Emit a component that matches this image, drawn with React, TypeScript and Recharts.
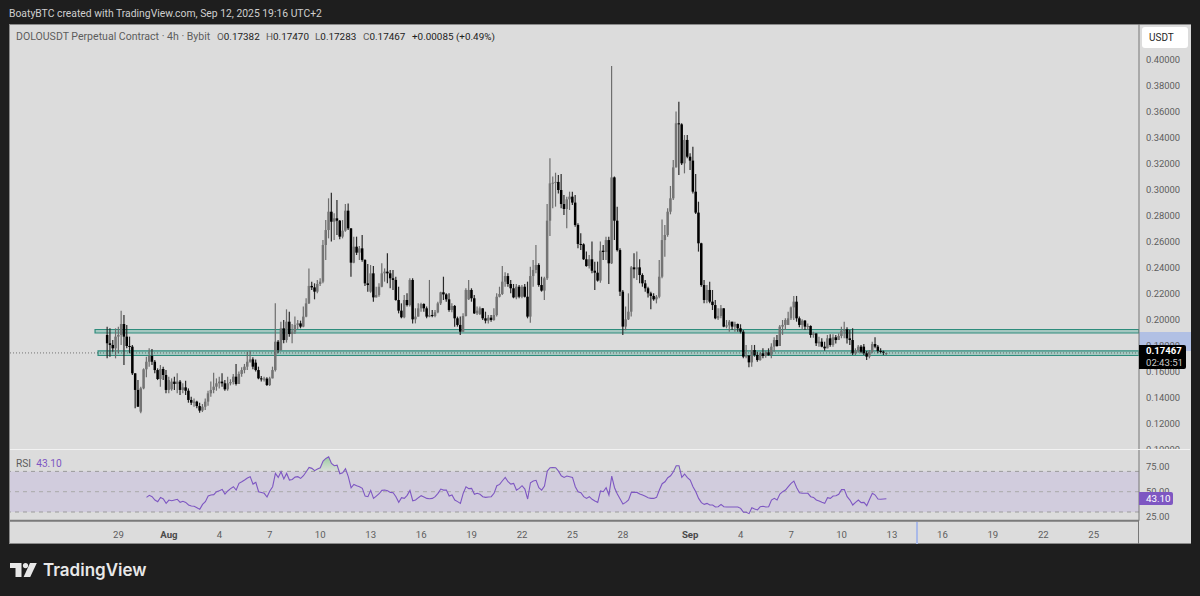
import React from "react";
import { ComposedChart, Bar, Line, Area, XAxis, YAxis, ReferenceArea, ReferenceLine } from "recharts";

const opens = [
.1885,.1821,.1808,.1782,.1872,.1885,.1969,.1872,.18,.1795,
.159,.1462,.1295,.1474,.1621,.1679,.1723,.1679,.1615,.1546,
.1623,.1577,.1462,.1467,.1526,.1508,.1526,.1462,.1482,.1456,
.1385,.1364,.1372,.1338,.1303,.1333,.1372,.1436,.1462,.1487,
.1513,.1526,.1513,.1467,.1513,.1523,.1564,.1508,.1585,.1615,
.1641,.1679,.1697,.1672,.1615,.1551,.1544,.1549,.15,.1551,
.1615,.1833,.1769,.1936,.1846,.1987,.1892,.191,.1962,.1974,
.1949,.2026,.2128,.2262,.2251,.2218,.2277,.2295,.2577,.2692,
.2833,.2756,.2782,.2764,.2641,.2687,.2841,.2705,.2441,.2564,
.2518,.2551,.2462,.2282,.2218,.2359,.2174,.2192,.2256,.2359,
.2372,.2359,.2321,.2308,.2154,.2072,.2021,.2154,.2115,.2308,
.2005,.2026,.209,.2123,.209,.2026,.2038,.2031,.2059,.2128,
.2213,.2197,.2159,.2077,.2108,.2013,.1962,.191,.2031,.2159,
.2231,.2167,.2051,.2046,.209,.2013,.1995,.2018,.2,.2038,
.2179,.22,.2295,.2338,.2277,.2244,.2174,.2256,.2179,.2256,
.2179,.2026,.2338,.2385,.2423,.2269,.2226,.2321,.2764,.3051,
.3056,.3062,.3,.2892,.2854,.2928,.2949,.2903,.2731,.2585,
.2582,.2467,.2415,.2467,.2379,.2364,.2303,.2533,.2523,.2615,
.2436,.3097,.2764,.2538,.2218,.1949,.2005,.2064,.2405,.239,
.2405,.2346,.2282,.2244,.2205,.2185,.2159,.2179,.2333,.2615,
.2654,.2833,.2936,.3174,.3513,.3505,.3205,.3385,.3256,.3226,
.2987,.2826,.259,.2269,.2154,.2231,.2141,.2115,.2013,.2031,
.209,.1949,.1959,.1987,.1949,.1969,.1936,.191,.1718,.1726,
.1674,.1769,.1731,.1692,.1744,.1723,.1751,.1731,.1795,.1846,
.18,.1949,.1962,.1962,.2013,.2097,.2141,.2013,.1962,.1995,
.1949,.1954,.1885,.1897,.1821,.1833,.1795,.1782,.1859,.1808,
.1867,.1846,.1877,.1918,.1928,.1859,.1846,.1744,.1762,.1795,
.1795,.1744,.1718,.1756,.1815,.1795,.1762,.1756,.17382,
];
const highs = [
.1949,.1936,.1846,.1936,.1949,.2072,.2038,.1962,.1872,.1808,
.159,.1538,.1487,.1628,.1718,.1782,.1777,.1692,.1628,.1654,
.1641,.1615,.1564,.1551,.1564,.159,.1538,.1513,.1533,.1474,
.141,.1397,.1379,.1364,.1354,.1397,.1456,.1526,.1595,.1551,
.1564,.159,.1538,.1564,.1544,.1585,.1662,.1603,.1636,.1662,
.1756,.1764,.1713,.1697,.1641,.1569,.1564,.1559,.1564,.1641,
.2128,.1846,.1987,.2,.2082,.2064,.1969,.2026,.2,.1995,
.2103,.2167,.2397,.2295,.2282,.2308,.2321,.2615,.2769,.2936,
.2979,.2821,.2923,.2769,.2769,.2892,.2897,.2705,.2641,.2641,
.2569,.2654,.2467,.2431,.2423,.2415,.2256,.2282,.2436,.2397,
.2513,.2385,.2385,.2333,.2256,.2128,.2192,.2205,.2321,.2321,
.209,.2128,.2133,.2128,.2103,.2308,.2077,.2077,.2141,.2218,
.2333,.2205,.2205,.2128,.2115,.2026,.2026,.2051,.2244,.2308,
.2244,.2192,.2103,.2103,.209,.2064,.2038,.2038,.209,.2205,
.2256,.2415,.2367,.2359,.2308,.2277,.2277,.2269,.2269,.2277,
.2295,.241,.2462,.2577,.2436,.2333,.2333,.2892,.3244,.3103,
.3133,.3115,.3123,.2962,.2949,.2987,.2987,.2962,.2744,.2667,
.259,.2526,.25,.2603,.2449,.2449,.2603,.2577,.2641,.2641,
.3954,.3103,.2872,.2551,.2231,.2103,.2205,.2415,.2513,.2526,
.2467,.2359,.2308,.2256,.2218,.2205,.2192,.2462,.2774,.2731,
.2859,.3031,.3231,.3603,.3679,.3513,.3423,.3423,.3282,.3333,
.3123,.291,.2595,.2308,.2269,.2295,.2231,.2154,.209,.2115,
.209,.2,.2,.1987,.1987,.1974,.1967,.1923,.1808,.1731,
.1808,.1808,.1756,.1756,.1782,.1764,.1782,.1821,.1867,.1885,
.1962,.2,.2013,.2064,.2103,.2185,.2185,.2026,.2005,.2,
.1974,.1959,.191,.1897,.1872,.1859,.1833,.1885,.189,.189,
.1885,.1897,.1949,.1987,.1944,.1923,.1936,.1782,.1808,.1808,
.1815,.1762,.1769,.1833,.1867,.1808,.1782,.1764,.1747,
];
const lows = [
.1705,.1718,.1756,.1705,.1744,.1808,.1654,.1782,.1744,.1577,
.1321,.1333,.1282,.1467,.1559,.1641,.1654,.159,.1538,.1487,
.1538,.1436,.1436,.1456,.1462,.1436,.1423,.1436,.1423,.1364,
.1346,.1333,.1321,.1287,.1292,.1308,.1341,.141,.1436,.1456,
.1474,.1487,.1456,.1456,.1497,.1503,.1497,.1518,.1564,.159,
.1615,.1672,.1621,.1603,.1544,.1526,.1526,.1492,.1492,.1551,
.1603,.1744,.1764,.1821,.1826,.1872,.1821,.1892,.1928,.1936,
.1944,.2021,.2123,.2231,.2159,.2205,.2262,.2282,.2462,.2628,
.2603,.2615,.2654,.2621,.2628,.2679,.2692,.2333,.2436,.25,
.2462,.2449,.2262,.2218,.221,.2141,.2174,.2179,.2251,.2295,
.2282,.2244,.2231,.2149,.2051,.2013,.2013,.2103,.2103,.1974,
.1974,.2026,.2064,.2064,.2013,.2021,.2021,.2021,.2051,.2115,
.2154,.2141,.2064,.2059,.1949,.1949,.1885,.191,.2026,.2154,
.2141,.2046,.2038,.2038,.2,.1974,.1974,.1987,.1995,.2026,
.2174,.2192,.2256,.2256,.2205,.2167,.2159,.2167,.2167,.2174,
.2013,.1979,.2256,.2359,.2256,.2218,.2154,.2308,.2646,.2859,
.2872,.2974,.2859,.2808,.2705,.2846,.2885,.2718,.2551,.2538,
.2462,.241,.2397,.2359,.2231,.2295,.2287,.2462,.2462,.2277,
.2431,.2615,.2526,.2185,.1885,.1921,.2,.2026,.2321,.2308,
.2282,.2256,.2218,.2174,.2082,.2149,.2128,.2167,.2321,.2487,
.2641,.2813,.2923,.3174,.3115,.3192,.3128,.3244,.3154,.2974,
.2815,.2526,.2256,.2128,.2128,.2128,.2077,.2005,.2,.2013,
.1944,.1936,.191,.1923,.191,.191,.1897,.1705,.1705,.1636,
.1641,.1718,.1679,.1687,.1705,.171,.1723,.1705,.1756,.1795,
.18,.1885,.1923,.1962,.2,.2,.1987,.1944,.1923,.1923,
.1923,.1864,.1864,.18,.1795,.179,.1764,.1782,.1795,.1795,
.182,.1846,.1859,.1859,.182,.1808,.1731,.1731,.1749,.1744,
.1731,.1692,.1705,.1744,.1782,.1744,.1744,.1731,.17283,
];
const closes = [
.1821,.1808,.1782,.1872,.1885,.1969,.1872,.18,.1795,.159,
.1462,.1333,.1474,.1621,.1679,.1723,.1679,.1615,.1546,.1623,
.1577,.1462,.1538,.1526,.1508,.1526,.1462,.1482,.1456,.1385,
.1364,.1372,.1338,.1303,.1333,.1372,.1436,.1462,.1487,.1513,
.1526,.1513,.1467,.1513,.1523,.1564,.1508,.1585,.1615,.1641,
.1679,.1697,.1641,.1615,.1551,.1544,.1549,.15,.1551,.1615,
.1833,.1769,.1936,.1846,.1987,.1892,.191,.1962,.1974,.1949,
.2026,.2128,.2262,.2251,.2218,.2277,.2295,.2577,.2692,.2833,
.2756,.2782,.2764,.2641,.2687,.2841,.2705,.2441,.2564,.2518,
.2551,.2462,.2282,.2269,.2359,.2174,.2192,.2256,.2359,.2372,
.2359,.2321,.2308,.2154,.2072,.2021,.2154,.2115,.2308,.2005,
.2026,.209,.2123,.209,.2026,.2038,.2031,.2059,.2128,.2213,
.2197,.2159,.2077,.2108,.2013,.1962,.191,.2031,.2231,.2231,
.2167,.2051,.2072,.209,.2013,.1995,.2018,.2,.2038,.2179,
.22,.2295,.2338,.2277,.2244,.2174,.2256,.2179,.2256,.2179,
.2026,.2338,.2385,.2423,.2269,.2226,.2321,.2764,.3051,.3056,
.3062,.3,.2892,.2854,.2928,.2949,.2903,.2731,.2585,.2582,
.2467,.2415,.2467,.2379,.2364,.2303,.2533,.2523,.2615,.2436,
.3097,.2764,.2538,.2218,.1949,.2005,.2064,.2405,.239,.2405,
.2346,.2282,.2244,.2205,.2185,.2159,.2179,.2333,.2615,.2654,
.2833,.2936,.3174,.3513,.3505,.3205,.3385,.3256,.3226,.2987,
.2826,.259,.2269,.2154,.2231,.2141,.2115,.2013,.2031,.209,
.1949,.1959,.1987,.1949,.1969,.1936,.191,.1718,.1726,.1674,
.1769,.1731,.1692,.1744,.1723,.1751,.1731,.1795,.1846,.18,
.1949,.1962,.2,.2013,.2097,.2141,.2013,.1962,.1995,.1949,
.1954,.1885,.1897,.1821,.1833,.1795,.1782,.1859,.1808,.1867,
.1846,.1877,.1918,.1928,.1859,.1846,.1744,.1762,.1795,.1756,
.1744,.1718,.1756,.1815,.1795,.1762,.1756,.1749,.17467,
];
const rsiStart = 14;
const rsiValues = [
44.4,46.4,45.1,41.8,40.2,44.4,42.8,38.5,41.8,41.1,
41.8,42.5,39.5,40.5,39.5,36.9,35.9,35.6,34.2,32.6,
37.5,40.2,45.7,46.7,47.1,50,51,52.3,47.7,50.7,
53,54.9,51.6,58.2,59.8,61.5,63.4,64.8,57.5,59.2,
50,49.3,48.4,44.8,50.7,54.9,68,64.1,69.7,62.5,
68,61.5,62.1,64.4,64.8,63.1,65.7,69.7,73.9,73,
70.7,72.3,73.6,80.2,82.8,84.4,77.9,75.6,76.2,67.7,
68.7,72.6,64.8,53.9,57.2,55.9,54.9,53.3,45.7,45.1,
51.3,43.4,45.7,48,51.3,51.6,51,49.3,49,45.1,
39.5,44.1,43.4,46.4,51.3,41.1,41.8,44.1,46.1,44.8,
43.4,43.1,43.4,45.1,48.4,52.6,51.6,51.6,45.7,46.7,
41.8,40.2,38.5,48.4,54.9,53,53.3,47.4,48.4,47.4,
45.1,44.4,44.8,45.1,48.4,55.9,57.2,60.8,64.1,59.8,
57.5,58.2,51.6,53.3,55.9,52.6,42.8,58.8,60.5,61.2,
53.9,51.6,55.6,70.3,73.6,73.9,73.6,70.3,65.7,64.1,
65.4,64.8,64.1,54.9,50,49,45.1,43.4,45.1,42.5,
40.8,39.5,50.7,50,53.9,46.7,65.4,53.9,47.7,42.8,
37.9,39.5,41.8,49.3,49.3,49.3,47.7,46.7,45.4,44.1,
43.4,43.4,44.4,51.6,57.9,59.8,63.8,65.7,69.7,75.6,
75.6,64.1,67.4,63.8,61.5,54.9,50,43.4,39.2,37.5,
38.5,36.9,36.9,34.9,35.2,37.5,35.2,34.9,34.9,34.9,
34.9,34.9,33.6,29.7,29.7,28.4,34.2,33,32,35.2,
35.6,34.9,35.2,41.8,43.4,41.8,47.7,50,51.6,54.9,
58.2,60.5,53.9,49,48.4,48.4,48.4,45.1,44.4,41.8,
40.8,39.5,38.5,44.1,43.4,45.7,46,47.4,52,52,
45.1,41.8,36.9,39.5,41.8,39.2,39.5,36.2,42.5,48.4,
46.7,42.8,42.5,42.8,43.1,
];
const dayTicks = [4,22,40,58,76,94,112,130,148,166,184,208,226,244,262,280,298,316,334,352];
const dayLabels = ["29","Aug","4","7","10","13","16","19","22","25","28","Sep","4","7","10","13","16","19","22","25"];
const priceTicks = [.10,.12,.14,.16,.18,.20,.22,.24,.26,.28,.30,.32,.34,.36,.38,.40];
const rsiTicks = [25,50,75];
const lastPrice = 0.17467;
const lastRsi = 43.1;
const zoneUpper = [0.19, 0.1927];
const zoneLower = [0.1727, 0.1762];
const ohlcLegend = [
  { key: "O", value: "0.17382", left: 217 },
  { key: "H", value: "0.17470", left: 266 },
  { key: "L", value: "0.17283", left: 315 },
  { key: "C", value: "0.17467", left: 363 },
];

const candles = closes.map((c, i) => ({ i, o: opens[i], h: Math.max(highs[i], opens[i], c), l: Math.min(lows[i], opens[i], c), c, range: [Math.min(lows[i], opens[i], c), Math.max(highs[i], opens[i], c)] }));
const rsiOf = (i: number) => (i >= rsiStart && i - rsiStart < rsiValues.length ? rsiValues[i - rsiStart] : null);
const rsiData = closes.map((_, i) => {
  const r = rsiOf(i);
  const near = [rsiOf(i - 1), r, rsiOf(i + 1)].some((v) => v !== null && v > 70);
  return { i, rsi: r, over: r !== null && near ? [70, Math.max(r, 70)] : null };
});

const FONT = "Roboto, 'Noto Sans', sans-serif";
const X_DOMAIN: [number, number] = [-34.71, 368.14];
const GREY = "#5c5c5c";

function Candle(props: any) {
  const { x, y, width, height, payload } = props;
  const { o, h, l, c } = payload;
  const k = height / Math.max(h - l, 1e-6);
  const top = y + (h - Math.max(o, c)) * k;
  const bh = Math.max(Math.abs(o - c) * k, 1);
  const cx = x + width / 2;
  const up = c >= o;
  return (
    <g>
      <line x1={cx} x2={cx} y1={y} y2={y + height} stroke={up ? "#6e6e6e" : "#2a2a2a"} strokeWidth={1.2} />
      <rect x={cx - 1.25} y={top} width={2.5} height={bh} fill={up ? "#747474" : "#000000"} />
    </g>
  );
}

function DayTick(props: any) {
  const { x, y, payload } = props;
  const idx = dayTicks.indexOf(payload.value);
  const label = dayLabels[idx];
  const bold = label === "Aug" || label === "Sep";
  return (
    <text x={x} y={y + 7} textAnchor="middle" dominantBaseline="middle" fontFamily={FONT} fontSize={9.6} fontWeight={bold ? 700 : 400} fill={bold ? "#4a4a4a" : GREY}>
      {label}
    </text>
  );
}

const abs = (s: React.CSSProperties): React.CSSProperties => ({ position: "absolute", ...s });

export default function App() {
  return (
    <div style={abs({ left: 0, top: 0, width: 1200, height: 596, background: "#1e1e1e", overflow: "hidden", fontFamily: FONT })}>
      <div style={abs({ left: 9, top: 7, fontSize: 10.37, color: "#cfcfcf", whiteSpace: "nowrap", lineHeight: "13px" })}>
        BoatyBTC created with TradingView.com, Sep 12, 2025 19:16 UTC+2
      </div>
      <div style={abs({ left: 9, top: 24, width: 1182, height: 520, background: "#dcdcdc", boxSizing: "border-box", borderTop: "1px solid #8a8a8a", borderLeft: "1px solid #8a8a8a", borderBottom: "1px solid #8a8a8a" })} />
      <div style={abs({ left: 1139, top: 332, width: 52, height: 19, background: "#b1c0e4" })} />

      <div style={abs({ left: 0, top: 0 })}>
        <ComposedChart width={1191} height={450} data={candles} margin={{ top: 24, right: 0, bottom: 0, left: 10 }}>
          <XAxis dataKey="i" type="number" domain={X_DOMAIN} hide allowDataOverflow />
          <YAxis orientation="right" width={52} domain={[0.1, 0.42769]} ticks={priceTicks} interval={0} allowDataOverflow
            tickFormatter={(v: number) => v.toFixed(5)} tickLine={false} tickMargin={1}
            axisLine={{ stroke: "#777777", strokeWidth: 1 }} tick={{ fontFamily: FONT, fontSize: 9.4, fill: GREY }} />
          <Bar dataKey="range" shape={Candle} barSize={3} isAnimationActive={false} />
          <ReferenceArea x1={-4.36} x2={368.14} y1={zoneUpper[0]} y2={zoneUpper[1]} fill="#4fa797" fillOpacity={0.4} stroke="#2e8c7c" strokeWidth={1.2} ifOverflow="hidden" />
          <ReferenceArea x1={-3.29} x2={368.14} y1={zoneLower[0]} y2={zoneLower[1]} fill="#4fa797" fillOpacity={0.4} stroke="#2e8c7c" strokeWidth={1.2} ifOverflow="hidden" />
          <ReferenceLine y={lastPrice} stroke="#3a3a3a" strokeOpacity={0.7} strokeDasharray="1 2" strokeWidth={0.9} />
        </ComposedChart>
      </div>

      <div style={abs({ left: 10, top: 450, width: 1180, height: 93, background: "#dcdcdc" })} />
      <div style={abs({ left: 10, top: 449, width: 1180, height: 1, background: "#f2f2f2" })} />

      <div style={abs({ left: 0, top: 450 })}>
        <ComposedChart width={1191} height={94} data={rsiData} margin={{ top: 0, right: 0, bottom: 0, left: 10 }}>
          <defs>
            <linearGradient id="overFill" x1="0" y1="0" x2="0" y2="1">
              <stop offset="0%" stopColor="#7cc483" stopOpacity={0.75} />
              <stop offset="100%" stopColor="#a5d6a7" stopOpacity={0.08} />
            </linearGradient>
          </defs>
          <XAxis dataKey="i" type="number" domain={X_DOMAIN} ticks={dayTicks} interval={0} allowDataOverflow height={23.3}
            tick={<DayTick />} tickLine={false} axisLine={{ stroke: "#7a7a7a", strokeWidth: 2 }} />
          <YAxis orientation="right" width={52} domain={[21.43, 91.08]} ticks={rsiTicks} interval={0} allowDataOverflow
            tickFormatter={(v: number) => v.toFixed(2)} tickLine={false} tickMargin={1}
            axisLine={{ stroke: "#777777", strokeWidth: 1 }} tick={{ fontFamily: FONT, fontSize: 9.4, fill: GREY }} />
          <ReferenceArea y1={30} y2={70} fill="#d1ccdd" fillOpacity={1} stroke="none" />
          <ReferenceLine y={70} stroke="#9b9b9b" strokeDasharray="4 4" />
          <ReferenceLine y={50} stroke="#a9a9a9" strokeDasharray="4 4" />
          <ReferenceLine y={30} stroke="#9b9b9b" strokeDasharray="4 4" />
          <Area dataKey="over" type="linear" fill="url(#overFill)" fillOpacity={1} stroke="none" isAnimationActive={false} connectNulls={false} />
          <Line dataKey="rsi" type="linear" stroke="#7e57c2" strokeWidth={1.1} dot={false} isAnimationActive={false} connectNulls={false} />
        </ComposedChart>
      </div>

      <div style={abs({ left: 1138, top: 520, width: 1, height: 24, background: "#777777" })} />
      <div style={abs({ left: 916, top: 522, width: 2, height: 22, background: "#a9b9e8" })} />

      <div style={abs({ left: 16, top: 30, fontSize: 10.55, lineHeight: "13px", color: GREY, whiteSpace: "pre" })}>
        DOLOUSDT Perpetual Contract · 4h · Bybit
      </div>
      {ohlcLegend.map((e) => (
        <div key={e.key} style={abs({ left: e.left, top: 30, fontSize: 9.9, lineHeight: "13px", color: GREY, whiteSpace: "pre" })}>
          {e.key}<span style={{ color: "#222" }}>{e.value}</span>
        </div>
      ))}
      <div style={abs({ left: 412, top: 30, fontSize: 9.9, lineHeight: "13px", color: "#222", whiteSpace: "pre" })}>+0.00085 (+0.49%)</div>
      <div style={abs({ left: 16, top: 457, fontSize: 10.2, lineHeight: "13px", color: GREY, whiteSpace: "pre" })}>
        {"RSI  "}<span style={{ color: "#7e57c2" }}>{lastRsi.toFixed(2)}</span>
      </div>

      <div style={abs({ left: 1142, top: 27, width: 46, height: 21, background: "#ffffff", borderRadius: 3, paddingLeft: 7, boxSizing: "border-box", fontSize: 10, lineHeight: "21px", color: "#1f1f1f" })}>USDT</div>

      <div style={abs({ left: 1139, top: 345, width: 47, height: 24, background: "#000000", borderRadius: "0 2px 2px 0", color: "#fff", fontSize: 9.6, lineHeight: "12px", paddingLeft: 7, boxSizing: "border-box", whiteSpace: "nowrap" })}>
        <div style={{ fontWeight: 700 }}>{lastPrice.toFixed(5)}</div>
        <div style={{ color: "#c9c9c9" }}>02:43:51</div>
      </div>
      <div style={abs({ left: 1139, top: 492, width: 34, height: 13, background: "#7e57c2", borderRadius: "0 2px 2px 0", color: "#fff", fontSize: 9.8, lineHeight: "13px", paddingLeft: 7, boxSizing: "border-box" })}>
        {lastRsi.toFixed(2)}
      </div>

      <svg style={abs({ left: 10, top: 563 })} width={27} height={14} viewBox="0 0 27 14" fill="#e8e8e8">
        <path d="M11.5 0H0v5h5.5v9h6V0Z" />
        <circle cx="15.5" cy="2.6" r="2.6" />
        <path d="M20 0h6.8L20.2 14h-6.6L20 0Z" />
      </svg>
      <div style={abs({ left: 43, top: 558, fontFamily: "Inter, sans-serif", fontWeight: 600, fontSize: 17, lineHeight: "24px", color: "#e8e8e8", whiteSpace: "nowrap" })}>TradingView</div>
    </div>
  );
}
